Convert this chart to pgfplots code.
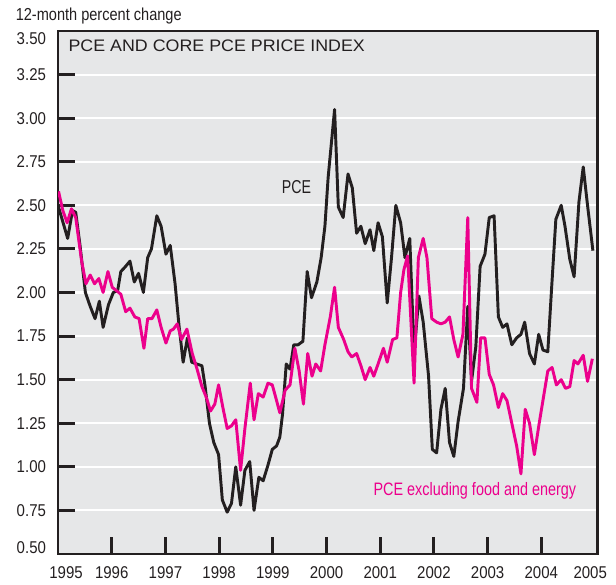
\documentclass[border=0pt]{standalone}
\usepackage{pgfplots}
\pgfplotsset{compat=1.18}
\usepackage{pgfplotstable}
\usepackage{fontspec}
\setmainfont{Liberation Sans}
\newfontfamily\tickfont[FakeStretch=0.88]{Liberation Sans}
\newfontfamily\condfont[FakeStretch=0.84]{Liberation Sans}
\newfontfamily\magfont[FakeStretch=0.80]{Liberation Sans}
\newfontfamily\pcefont[FakeStretch=0.76]{Liberation Sans}
\newfontfamily\titlefont[FakeStretch=1.07]{Liberation Sans}
\definecolor{bgc}{HTML}{E6E7E8}
\definecolor{dk}{HTML}{231F20}
\definecolor{mag}{HTML}{EC008C}

\pgfplotstableread{
x y
1995.01 2.49
1995.18 2.31
1995.27 2.47
1995.33 2.46
1995.41 2.27
1995.51 2.00
1995.60 1.92
1995.69 1.85
1995.77 1.95
1995.84 1.80
1995.94 1.93
1996.03 2.00
1996.11 2.01
1996.17 2.12
1996.26 2.15
1996.34 2.18
1996.42 2.06
1996.50 2.11
1996.59 2.00
1996.67 2.20
1996.74 2.25
1996.84 2.44
1996.92 2.38
1997.01 2.22
1997.09 2.27
1997.18 2.05
1997.25 1.82
1997.33 1.60
1997.41 1.74
1997.49 1.60
1997.58 1.59
1997.68 1.58
1997.74 1.46
1997.82 1.25
1997.90 1.14
1997.99 1.07
1998.06 0.81
1998.15 0.74
1998.23 0.79
1998.31 1.00
1998.40 0.78
1998.48 0.98
1998.57 1.03
1998.65 0.75
1998.74 0.94
1998.82 0.92
1998.91 1.01
1998.99 1.10
1999.07 1.12
1999.13 1.17
1999.18 1.30
1999.25 1.59
1999.32 1.56
1999.39 1.70
1999.47 1.70
1999.56 1.72
1999.64 2.12
1999.72 1.97
1999.82 2.06
1999.90 2.20
1999.97 2.38
2000.03 2.66
2000.15 3.05
2000.22 2.49
2000.31 2.43
2000.40 2.68
2000.48 2.60
2000.56 2.34
2000.64 2.38
2000.72 2.28
2000.81 2.36
2000.88 2.24
2000.96 2.40
2001.04 2.32
2001.13 1.94
2001.21 2.20
2001.29 2.50
2001.38 2.40
2001.46 2.20
2001.55 2.31
2001.63 1.65
2001.72 1.98
2001.80 1.83
2001.90 1.52
2001.97 1.10
2002.05 1.08
2002.13 1.33
2002.21 1.45
2002.29 1.14
2002.37 1.06
2002.45 1.26
2002.55 1.45
2002.63 1.92
2002.70 1.49
2002.78 1.69
2002.86 2.15
2002.95 2.22
2003.03 2.43
2003.12 2.44
2003.20 1.86
2003.28 1.80
2003.36 1.82
2003.45 1.70
2003.54 1.74
2003.62 1.76
2003.69 1.83
2003.78 1.65
2003.87 1.59
2003.95 1.76
2004.03 1.67
2004.12 1.66
2004.19 2.02
2004.27 2.42
2004.37 2.50
2004.44 2.38
2004.53 2.19
2004.61 2.09
2004.70 2.52
2004.78 2.72
2004.86 2.50
2004.96 2.24
}\pce

\pgfplotstableread{
x y
1995.01 2.58
1995.09 2.47
1995.17 2.40
1995.25 2.48
1995.33 2.43
1995.44 2.18
1995.52 2.05
1995.60 2.10
1995.68 2.05
1995.76 2.08
1995.84 2.00
1995.93 2.12
1996.01 2.03
1996.09 2.01
1996.17 1.99
1996.26 1.89
1996.34 1.91
1996.43 1.86
1996.51 1.85
1996.60 1.68
1996.67 1.85
1996.75 1.85
1996.84 1.90
1996.92 1.80
1997.01 1.71
1997.09 1.78
1997.15 1.79
1997.22 1.82
1997.30 1.73
1997.40 1.79
1997.50 1.65
1997.59 1.56
1997.68 1.46
1997.76 1.40
1997.84 1.32
1997.92 1.36
1997.99 1.47
1998.07 1.34
1998.15 1.22
1998.23 1.235
1998.31 1.27
1998.40 0.98
1998.48 1.22
1998.58 1.48
1998.65 1.27
1998.73 1.42
1998.82 1.40
1998.91 1.48
1998.99 1.47
1999.07 1.38
1999.13 1.31
1999.23 1.44
1999.32 1.47
1999.41 1.68
1999.49 1.55
1999.57 1.36
1999.65 1.65
1999.73 1.52
1999.80 1.59
1999.89 1.55
1999.97 1.70
2000.07 1.86
2000.15 2.03
2000.22 1.80
2000.32 1.73
2000.40 1.66
2000.47 1.63
2000.56 1.65
2000.64 1.58
2000.72 1.50
2000.81 1.57
2000.88 1.52
2000.96 1.59
2001.06 1.68
2001.13 1.60
2001.23 1.73
2001.31 1.74
2001.38 2.00
2001.44 2.13
2001.51 2.21
2001.63 1.48
2001.71 2.20
2001.80 2.31
2001.87 2.20
2001.96 1.85
2002.05 1.83
2002.13 1.82
2002.21 1.83
2002.29 1.86
2002.37 1.73
2002.45 1.63
2002.54 1.76
2002.63 2.43
2002.70 1.45
2002.80 1.37
2002.87 1.74
2002.95 1.74
2003.03 1.53
2003.11 1.47
2003.20 1.34
2003.28 1.42
2003.36 1.38
2003.45 1.25
2003.54 1.12
2003.62 0.96
2003.70 1.33
2003.78 1.25
2003.87 1.07
2003.96 1.25
2004.04 1.40
2004.12 1.55
2004.20 1.57
2004.28 1.47
2004.37 1.50
2004.45 1.45
2004.53 1.46
2004.61 1.61
2004.68 1.59
2004.78 1.64
2004.86 1.49
2004.95 1.62
}\core

\begin{document}
\begin{tikzpicture}[x=0.75pt,y=0.75pt]
\path (0,0) rectangle (616,584);
\begin{axis}[
  at={(43.5pt,22.5pt)}, anchor=south west,
  scale only axis, width=404.8pt, height=392.25pt,
  xmin=1995, xmax=2005.05, ymin=0.5, ymax=3.5,
  axis background/.style={fill=bgc},
  axis line style={line width=2.2pt, color=dk, line cap=rect},
  tick pos=left, tick align=inside,
  major tick length=12.75pt,
  tick style={line width=2.2pt, color=dk},
  ytick={0.75,1,1.25,1.5,1.75,2,2.25,2.5,2.75,3,3.25},
  ymajorgrids, major grid style={white, line width=1.6pt},
  xtick={1996,1997,1998,1999,2000,2001,2002,2003,2004},
  xticklabels={1996,1997,1998,1999,2000,2001,2002,2003,2004},
  extra x ticks={1995.15,2004.91},
  extra x tick labels={1995,2005},
  extra x tick style={major tick length=0pt},
  extra y ticks={0.536,3.454},
  extra y tick labels={0.50,3.50},
  extra y tick style={major tick length=0pt, grid=none},
  /pgf/number format/assume math mode=true,
  yticklabel style={/pgf/number format/fixed, /pgf/number format/fixed zerofill, /pgf/number format/precision=2, xshift=-5.5pt},
  xticklabel style={yshift=-6pt},
  tick label style={font=\fontsize{12.8pt}{14pt}\tickfont, text=dk},
]
\addplot[dk, line width=2.2pt, line join=round] table[x=x,y=y] {\pce};
\addplot[mag, line width=2.2pt, line join=round] table[x=x,y=y] {\core};
\end{axis}
\node[anchor=base west, inner sep=0pt, text=dk, font=\fontsize{13pt}{15pt}\condfont] at (15.5,563.3) {12-month percent change};
\node[anchor=base west, inner sep=0pt, text=dk, font=\fontsize{12.5pt}{15pt}\titlefont] at (68.3,532.3) {PCE AND CORE PCE PRICE INDEX};
\node[anchor=base west, inner sep=0pt, text=dk, font=\fontsize{14pt}{16pt}\pcefont] at (281.7,390.7) {PCE};
\node[anchor=base west, inner sep=0pt, text=mag, font=\fontsize{13.5pt}{16pt}\magfont] at (373.3,88) {PCE excluding food and energy};
\end{tikzpicture}
\end{document}
